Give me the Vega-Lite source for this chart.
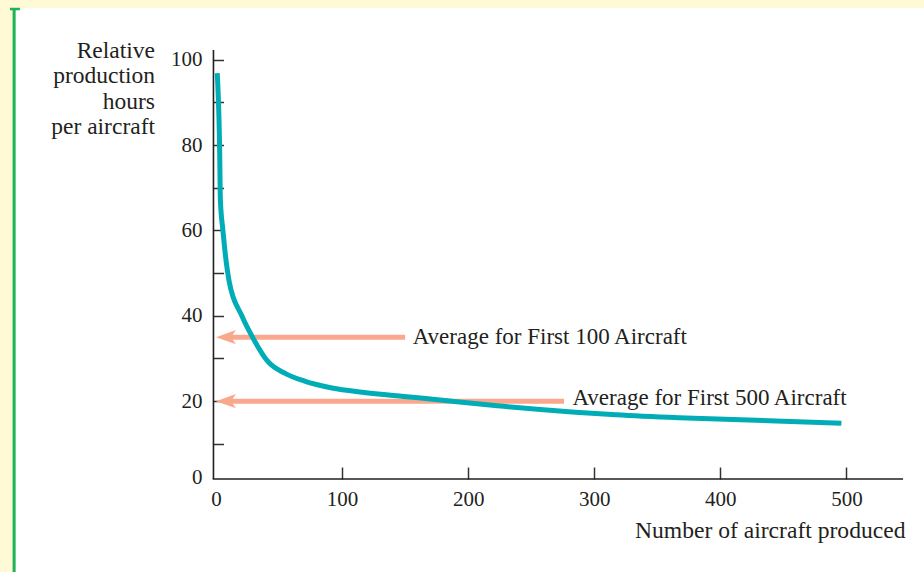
{
  "$schema": "https://vega.github.io/schema/vega-lite/v6.json",
  "width": 908,
  "height": 564,
  "autosize": {"type": "none"},
  "padding": {"left": 16, "top": 8, "right": 0, "bottom": 0},
  "background": "#fff9d6",
  "view": {"fill": "#ffffff", "stroke": null},
  "config": {"font": "Liberation Serif"},
  "datasets": {
    "curve": [
      {"aircraft": 1, "hours": 96.9},
      {"aircraft": 2.9, "hours": 79},
      {"aircraft": 3.5, "hours": 67.1},
      {"aircraft": 5.5, "hours": 60},
      {"aircraft": 7.1, "hours": 55.2},
      {"aircraft": 10.5, "hours": 48},
      {"aircraft": 20.5, "hours": 40},
      {"aircraft": 29.7, "hours": 34.6},
      {"aircraft": 41.1, "hours": 29.3},
      {"aircraft": 55.6, "hours": 26.4},
      {"aircraft": 70.2, "hours": 24.7},
      {"aircraft": 92, "hours": 23.1},
      {"aircraft": 116, "hours": 22.1},
      {"aircraft": 149, "hours": 21.1},
      {"aircraft": 174, "hours": 20.4},
      {"aircraft": 199, "hours": 19.6},
      {"aircraft": 223, "hours": 18.9},
      {"aircraft": 285, "hours": 17.4},
      {"aircraft": 317, "hours": 16.8},
      {"aircraft": 367, "hours": 16.1},
      {"aircraft": 450, "hours": 15.3},
      {"aircraft": 496, "hours": 14.8}
    ],
    "arrows": [
      {"label": "Average for First 100 Aircraft", "level": 35, "tip": 0, "shaft_start": 6, "shaft_end": 150, "text_x": 156, "text_y": 35},
      {"label": "Average for First 500 Aircraft", "level": 20, "tip": 0, "shaft_start": 6, "shaft_end": 276, "text_x": 282.7, "text_y": 20.8}
    ],
    "one": [{}]
  },
  "layer": [
    {
      "data": {"name": "one"},
      "mark": {"type": "rule", "color": "#1db35b", "strokeWidth": 3},
      "encoding": {
        "x": {"datum": -160.1, "type": "quantitative", "scale": {"domain": [-158.6, 561.5], "nice": false, "zero": false}},
        "y": {"datum": 112.14, "type": "quantitative", "scale": {"domain": [-20.04, 112.14], "nice": false, "zero": false}},
        "y2": {"datum": -20.04}
      }
    },
    {
      "data": {"name": "one"},
      "mark": {"type": "rule", "color": "#1db35b", "strokeWidth": 2.5},
      "encoding": {
        "x": {"datum": -163.4, "type": "quantitative", "scale": {"domain": [-158.6, 561.5], "nice": false, "zero": false}},
        "x2": {"datum": -155.5},
        "y": {"datum": 111.9, "type": "quantitative", "scale": {"domain": [-20.04, 112.14], "nice": false, "zero": false}}
      }
    },
    {
      "data": {"name": "one"},
      "mark": {"type": "rule", "color": "#231f20", "strokeWidth": 1.6},
      "encoding": {
        "x": {"datum": -2, "type": "quantitative", "scale": {"domain": [-158.6, 561.5], "nice": false, "zero": false}},
        "y": {"datum": 1.76, "type": "quantitative", "scale": {"domain": [-20.04, 112.14], "nice": false, "zero": false}},
        "y2": {"datum": 102.3}
      }
    },
    {
      "data": {"name": "one"},
      "mark": {"type": "rule", "color": "#231f20", "strokeWidth": 1.6},
      "encoding": {
        "x": {"datum": -2.6, "type": "quantitative", "scale": {"domain": [-158.6, 561.5], "nice": false, "zero": false}},
        "x2": {"datum": 544.9},
        "y": {"datum": 1.76, "type": "quantitative", "scale": {"domain": [-20.04, 112.14], "nice": false, "zero": false}}
      }
    },
    {
      "data": {"name": "arrows"},
      "mark": {"type": "rule", "color": "#f9a88e", "strokeWidth": 5, "strokeCap": "butt"},
      "encoding": {
        "x": {"field": "shaft_start", "type": "quantitative", "scale": {"domain": [-158.6, 561.5], "nice": false, "zero": false}},
        "x2": {"field": "shaft_end"},
        "y": {"field": "level", "type": "quantitative", "scale": {"domain": [-20.04, 112.14], "nice": false, "zero": false}}
      }
    },
    {
      "data": {"name": "arrows"},
      "mark": {"type": "point", "shape": "M0,0L2,-0.72L1.5,0L2,0.72Z", "size": 400, "filled": true, "color": "#f9a88e", "opacity": 1, "strokeWidth": 0},
      "encoding": {
        "x": {"field": "tip", "type": "quantitative", "scale": {"domain": [-158.6, 561.5], "nice": false, "zero": false}},
        "y": {"field": "level", "type": "quantitative", "scale": {"domain": [-20.04, 112.14], "nice": false, "zero": false}}
      }
    },
    {
      "data": {"name": "curve"},
      "mark": {"type": "line", "color": "#00adb6", "strokeWidth": 5, "interpolate": "monotone", "strokeCap": "butt"},
      "encoding": {
        "x": {
          "field": "aircraft", "type": "quantitative",
          "scale": {"domain": [-158.6, 561.5], "nice": false, "zero": false},
          "axis": {
            "values": [0, 100, 200, 300, 400, 500],
            "offset": -93,
            "domain": false,
            "grid": false,
            "tickSize": -12,
            "tickWidth": 1.5,
            "tickColor": {"condition": {"test": "datum.value == 0", "value": "transparent"}, "value": "#333333"},
            "labelFont": "Liberation Serif",
            "labelFontSize": 21,
            "labelColor": "#231f20",
            "labelPadding": 21,
            "labelFlush": false,
            "labelOverlap": false,
            "title": "Number of aircraft produced",
            "titleFont": "Liberation Serif",
            "titleFontSize": 23.6,
            "titleFontWeight": "normal",
            "titleColor": "#231f20",
            "titleAlign": "right",
            "titleBaseline": "alphabetic",
            "titleX": 889,
            "titleY": 58
          }
        },
        "y": {
          "field": "hours", "type": "quantitative",
          "scale": {"domain": [-20.04, 112.14], "nice": false, "zero": false},
          "axis": {
            "values": [0, 10, 20, 30, 40, 50, 60, 70, 80, 90, 100],
            "offset": -197.5,
            "domain": false,
            "grid": false,
            "tickSize": -10,
            "tickWidth": 1.5,
            "tickColor": {"condition": {"test": "datum.value == 0", "value": "transparent"}, "value": "#333333"},
            "labelExpr": "datum.value % 20 == 0 ? datum.label : ''",
            "labelOffset": {"condition": {"test": "datum.value == 0", "value": -9}, "value": 0},
            "labelFont": "Liberation Serif",
            "labelFontSize": 21,
            "labelColor": "#231f20",
            "labelPadding": 21.5,
            "labelFlush": false,
            "labelOverlap": false,
            "title": ["Relative", "production", "hours", "per aircraft"],
            "titleFont": "Liberation Serif",
            "titleFontSize": 23.5,
            "titleFontWeight": "normal",
            "titleColor": "#231f20",
            "titleAngle": 0,
            "titleAlign": "right",
            "titleBaseline": "alphabetic",
            "titleLineHeight": 25.5,
            "titleX": -59,
            "titleY": 49
          }
        }
      }
    },
    {
      "data": {"name": "arrows"},
      "mark": {"type": "text", "align": "left", "baseline": "middle", "font": "Liberation Serif", "fontSize": 23, "color": "#231f20"},
      "encoding": {
        "x": {"field": "text_x", "type": "quantitative", "scale": {"domain": [-158.6, 561.5], "nice": false, "zero": false}},
        "y": {"field": "text_y", "type": "quantitative", "scale": {"domain": [-20.04, 112.14], "nice": false, "zero": false}},
        "text": {"field": "label"}
      }
    }
  ]
}
